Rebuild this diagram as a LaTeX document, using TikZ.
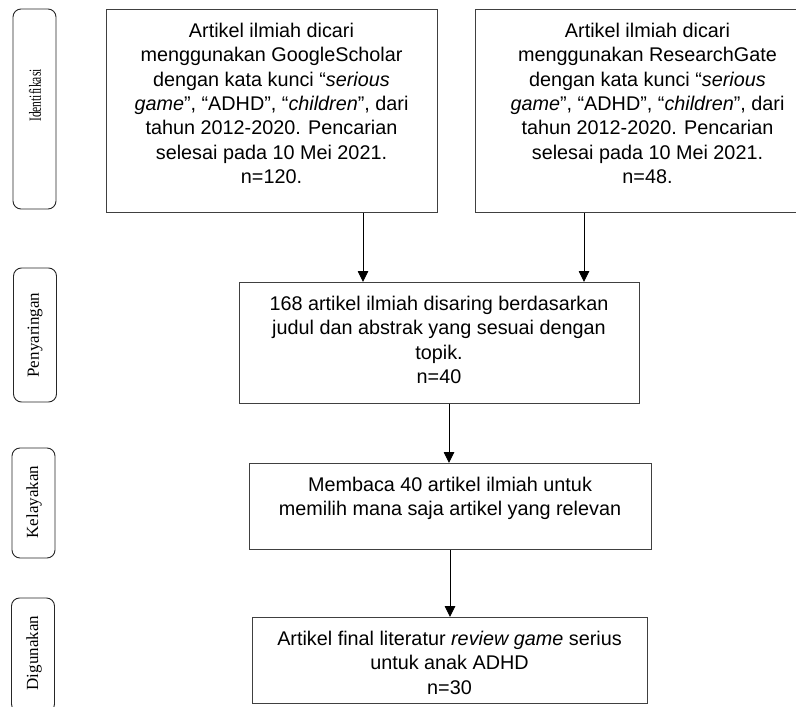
\documentclass[tikz,border=0pt]{standalone}
\usepackage{fontspec}
\setmainfont{Liberation Sans}
\newfontfamily\lblfont{Liberation Serif}
\usetikzlibrary{arrows.meta}
\newcommand{\boxtext}[3]{\parbox[c][#2pt][t]{#1pt}{\fontsize{19.8}{24.3}\selectfont\centering\rule{0pt}{28pt}#3\par}}
\begin{document}
\begin{tikzpicture}[x=1pt,y=-1pt,
  lblbox/.style={draw=black!85, line width=0.9pt, rounded corners=8pt, inner sep=0pt, minimum width=43pt},
  lbltext/.style={rotate=90, inner sep=0pt, font=\lblfont\fontsize{17}{20}\selectfont},
  mainbox/.style={draw=black!75, line width=1pt, inner sep=0pt, anchor=north},
  arr/.style={-{Triangle[width=10.5pt,length=11pt]}, line width=0.9pt, draw=black}]
\useasboundingbox (0,0) rectangle (796,707);

% stage labels
\node[lblbox, minimum height=200pt] (L1) at (34.5,109) {};
\node[lblbox, minimum height=134pt] (L2) at (35,335) {};
\node[lblbox, minimum height=110pt] (L3) at (33.5,503) {};
\node[lblbox, minimum height=114pt] (L4) at (33,655) {};
\node[lbltext] (T1) at (35,95.5) {\scalebox{0.68}[1]{Identifikasi}};
\node[lbltext] (T2) at (35,335) {Penyaringan};
\node[lbltext] (T3) at (34,502) {Kelayakan};
\node[lbltext] (T4) at (34,653) {Digunakan};

% main boxes
\node[mainbox] (A) at (271.5,9) {\boxtext{331}{203}{Artikel ilmiah dicari\\menggunakan GoogleScholar\\dengan kata kunci “\textit{serious}\\\textit{game}”, “ADHD”, “\textit{children}”, dari\\tahun 2012-2020. Pencarian\\selesai pada 10 Mei 2021.\\n=120.}};
\node[mainbox] (B) at (647.5,9) {\boxtext{345}{203}{Artikel ilmiah dicari\\menggunakan ResearchGate\\dengan kata kunci “\textit{serious}\\\textit{game}”, “ADHD”, “\textit{children}”, dari\\tahun 2012-2020. Pencarian\\selesai pada 10 Mei 2021.\\n=48.}};
\node[mainbox] (C) at (439,282) {\boxtext{400}{121}{168 artikel ilmiah disaring berdasarkan\\judul dan abstrak yang sesuai dengan\\topik.\\n=40}};
\node[mainbox] (D) at (450,463) {\boxtext{402}{86}{Membaca 40 artikel ilmiah untuk\\memilih mana saja artikel yang relevan}};
\node[mainbox] (E) at (449.5,617) {\boxtext{395}{86}{Artikel final literatur \textit{review game} serius\\untuk anak ADHD\\n=30}};

% connectors
\coordinate (xa) at (363,0);
\coordinate (xb) at (584,0);
\coordinate (xc) at (449,0);
\coordinate (xd) at (450,0);
\draw[arr] (A.south -| xa) -- (C.north -| xa);
\draw[arr] (B.south -| xb) -- (C.north -| xb);
\draw[arr] (C.south -| xc) -- (D.north -| xc);
\draw[arr] (D.south -| xd) -- (E.north -| xd);
\end{tikzpicture}
\end{document}
